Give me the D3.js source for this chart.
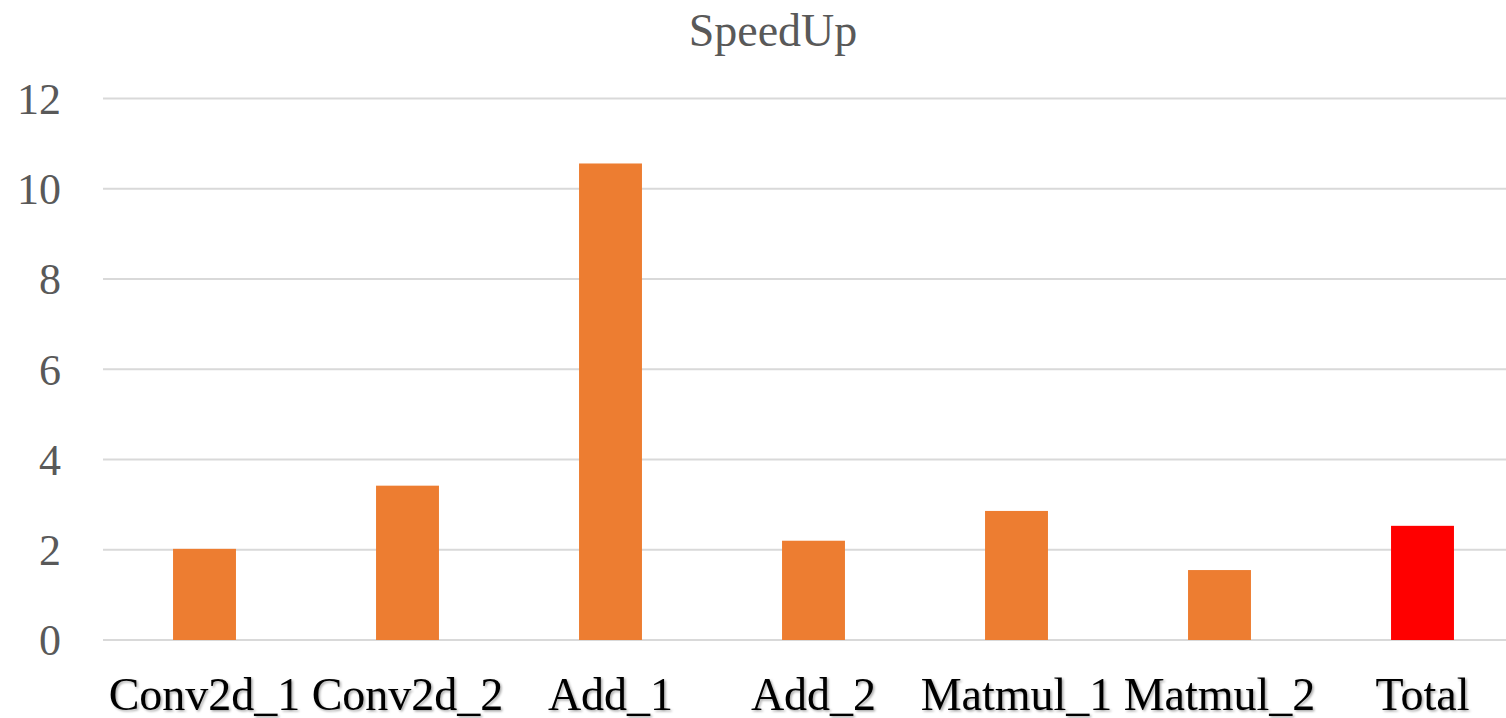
<!DOCTYPE html>
<html><head><meta charset="utf-8">
<script src="https://cdn.jsdelivr.net/npm/d3@7"></script>
<style>html,body{margin:0;padding:0;background:#fff;overflow:hidden}</style>
</head><body>
<svg id="chart" width="1506" height="718"></svg>
<script>
const categories = ["Conv2d_1","Conv2d_2","Add_1","Add_2","Matmul_1","Matmul_2","Total"];
const speedup = [2.02, 3.42, 10.56, 2.20, 2.86, 1.55, 2.53];
const barColors = ["#ED7D31","#ED7D31","#ED7D31","#ED7D31","#ED7D31","#ED7D31","#FF0000"];
const yTicks = [0, 2, 4, 6, 8, 10, 12];
const title = "SpeedUp";

const svg = d3.select("#chart");
const font = "'Liberation Serif', 'Times New Roman', serif";
const defs = svg.append("defs");
const f = defs.append("filter").attr("id","sh").attr("x","-10%").attr("y","-10%").attr("width","130%").attr("height","140%");
f.append("feDropShadow").attr("dx",1.5).attr("dy",1.5).attr("stdDeviation",1.2).attr("flood-color","#000").attr("flood-opacity",0.35);

const x = d3.scaleBand().domain(categories).range([103, 1524]).paddingInner(0.69).paddingOuter(0.345);
const y = d3.scaleLinear().domain([0, 12]).range([640, 98.5]);

// gridlines
svg.append("g").selectAll("line").data(yTicks).join("line")
  .attr("x1", 103).attr("x2", 1506)
  .attr("y1", d => y(d)).attr("y2", d => y(d))
  .attr("stroke", "#d9d9d9").attr("stroke-width", 2);

// bars
svg.append("g").selectAll("rect").data(categories).join("rect")
  .attr("x", d => x(d)).attr("width", x.bandwidth())
  .attr("y", (d,i) => y(speedup[i])).attr("height", (d,i) => y(0) - y(speedup[i]))
  .attr("fill", (d,i) => barColors[i]);

// y axis labels
const yAxis = d3.axisLeft(y).tickValues(yTicks).tickSize(0).tickPadding(0);
const gy = svg.append("g").attr("transform","translate(61,0)").call(yAxis);
gy.select(".domain").remove();
gy.selectAll("text").attr("font-family", font).attr("font-size", 44).attr("fill", "#595959").attr("dy","0.34em");

// x axis labels
const xAxis = d3.axisBottom(x).tickSize(0).tickPadding(0);
const gx = svg.append("g").attr("transform","translate(0,710)").call(xAxis);
gx.select(".domain").remove();
gx.selectAll("text").attr("font-family", font).attr("font-size", 46).attr("fill", "#000").attr("dy", 0).attr("filter","url(#sh)");

// title
svg.append("text").attr("x", 773).attr("y", 46).attr("text-anchor","middle")
  .attr("font-family", font).attr("font-size", 46).attr("fill", "#595959").text(title);
</script>
</body></html>
